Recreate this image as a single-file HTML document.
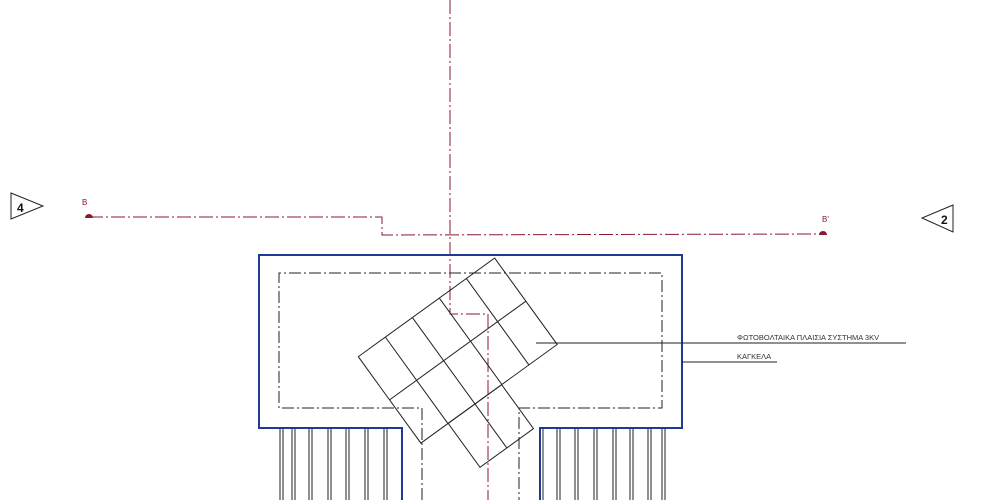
<!DOCTYPE html>
<html><head><meta charset="utf-8"><style>
html,body{margin:0;padding:0;background:#fff;width:1000px;height:500px;overflow:hidden}
</style></head><body>
<svg width="1000" height="500" viewBox="0 0 1000 500" xmlns="http://www.w3.org/2000/svg" font-family="Liberation Sans, sans-serif">
<rect width="1000" height="500" fill="#fff"/>
<!-- section triangles -->
<polygon points="11,193 43,206 11,219" fill="none" stroke="#222" stroke-width="1"/>
<text x="17" y="212" font-size="12" font-weight="bold" fill="#111">4</text>
<polygon points="953,205 922,218 953,232" fill="none" stroke="#222" stroke-width="1"/>
<text x="941" y="224" font-size="12" font-weight="bold" fill="#111">2</text>
<!-- B line -->
<g stroke="#8a1a2e" stroke-width="1" fill="none" stroke-dasharray="14,3,2,3">
<polyline points="89,217 382,217 382,235 822,234"/>
<polyline points="450,0 450,314 488,314 488,500"/>
</g>
<path d="M85,218 A4,4 0 0 1 93,218 Z" fill="#8a1a2e"/>
<path d="M819,235 A4,4 0 0 1 827,235 Z" fill="#8a1a2e"/>
<text x="82" y="205" font-size="8" fill="#8a1a2e">B</text>
<text x="822" y="222" font-size="8" fill="#8a1a2e">B'</text>
<!-- blue outline -->
<polyline points="402,500 402,428 259,428 259,255 682,255 682,428 540,428 540,500" fill="none" stroke="#1f3a93" stroke-width="2"/>
<!-- dash-dot inner -->
<polyline points="422,500 422,408 279,408 279,273 662,273 662,408 519,408 519,500" fill="none" stroke="#222" stroke-width="1" stroke-dasharray="12,3,2,3"/>
<!-- bars -->
<g stroke="#222" stroke-width="1">
<line x1="280" y1="429" x2="280" y2="500"/><line x1="283" y1="429" x2="283" y2="500"/>
<line x1="292" y1="429" x2="292" y2="500"/><line x1="295" y1="429" x2="295" y2="500"/>
<line x1="309" y1="429" x2="309" y2="500"/><line x1="312" y1="429" x2="312" y2="500"/>
<line x1="328" y1="429" x2="328" y2="500"/><line x1="331" y1="429" x2="331" y2="500"/>
<line x1="346" y1="429" x2="346" y2="500"/><line x1="349" y1="429" x2="349" y2="500"/>
<line x1="365" y1="429" x2="365" y2="500"/><line x1="368" y1="429" x2="368" y2="500"/>
<line x1="384" y1="429" x2="384" y2="500"/><line x1="387" y1="429" x2="387" y2="500"/>
<line x1="543" y1="429" x2="543" y2="500"/>
<line x1="557" y1="429" x2="557" y2="500"/><line x1="560" y1="429" x2="560" y2="500"/>
<line x1="575" y1="429" x2="575" y2="500"/><line x1="578" y1="429" x2="578" y2="500"/>
<line x1="594" y1="429" x2="594" y2="500"/><line x1="597" y1="429" x2="597" y2="500"/>
<line x1="613" y1="429" x2="613" y2="500"/><line x1="616" y1="429" x2="616" y2="500"/>
<line x1="630" y1="429" x2="630" y2="500"/><line x1="633" y1="429" x2="633" y2="500"/>
<line x1="648" y1="429" x2="648" y2="500"/><line x1="651" y1="429" x2="651" y2="500"/>
<line x1="662" y1="429" x2="662" y2="500"/><line x1="665" y1="429" x2="665" y2="500"/>
</g>
<!-- PV panels -->
<g transform="translate(358.3,356.7) rotate(-35.9)" stroke="#222" stroke-width="1" fill="none">
<rect x="0" y="0" width="168.3" height="106.7"/>
<rect x="33.7" y="106.7" width="66" height="54.3"/>
<line x1="0" y1="53.3" x2="168.3" y2="53.3"/>
<line x1="33.4" y1="0" x2="33.4" y2="106.7"/>
<line x1="66.8" y1="0" x2="66.8" y2="161"/>
<line x1="100" y1="0" x2="100" y2="106.7"/>
<line x1="133.4" y1="0" x2="133.4" y2="106.7"/>
</g>
<!-- leaders -->
<line x1="536" y1="343" x2="906" y2="343" stroke="#222" stroke-width="1"/>
<line x1="682" y1="362" x2="777" y2="362" stroke="#222" stroke-width="1"/>
<text x="737" y="340" font-size="7.5" fill="#333">ΦΩΤΟΒΟΛΤΑΙΚΑ ΠΛΑΙΣΙΑ ΣΥΣΤΗΜΑ 3KV</text>
<text x="737" y="359" font-size="7.5" fill="#333">ΚΑΓΚΕΛΑ</text>
</svg>
</body></html>
